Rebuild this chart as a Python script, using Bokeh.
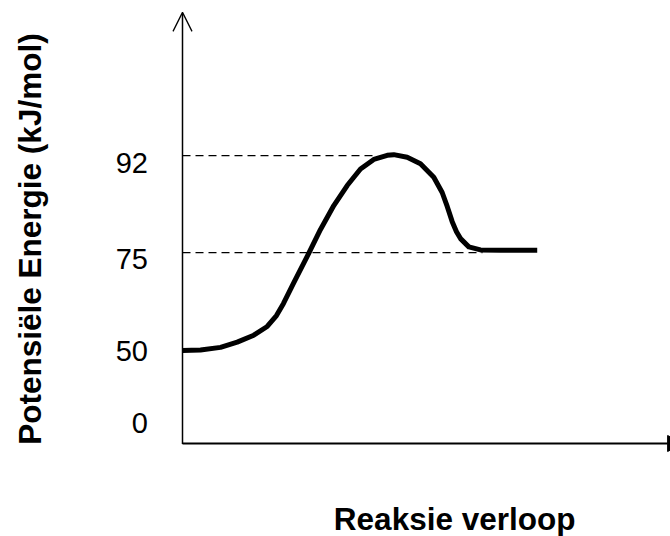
import math
from bokeh.plotting import figure
from bokeh.models import Range1d, Arrow, OpenHead, NormalHead
from bokeh.core.properties import value
from bokeh.embed import file_html
from bokeh.resources import INLINE

# --- data (schematic diagram units: x = reaction progress, y = diagram height) ---
curve_x = [0.0, 3.75, 7.92, 11.4, 14.85, 17.65, 19.58, 21.04, 23.19, 25.98, 28.75,
           31.52, 34.31, 37.08, 39.85, 42.65, 44.02, 46.81, 49.58, 52.35, 54.1,
           55.15, 56.19, 57.08, 57.92, 59.65, 62.08, 66.25, 73.9]
curve_y = [21.4, 21.5, 22.1, 23.3, 24.9, 26.9, 29.4, 32.2, 37.0, 43.0, 49.2,
           54.7, 59.3, 63.1, 65.3, 66.25, 66.4, 65.8, 64.3, 61.2, 57.7,
           54.5, 51.0, 48.7, 47.1, 45.2, 44.5, 44.4, 44.4]

# energy levels marked by dashed guide lines
level_names = ["92", "75"]
level_y = [66.2, 43.9]
level_x_end = [40.5, 62.5]

# tick labels of the y axis (kJ/mol) and their positions on the diagram
tick_labels = ["0", "50", "75", "92"]
tick_pos = [4.6, 21.2, 42.5, 64.4]

x_label = "Reaksie verloop"
y_label = "Potensiële Energie (kJ/mol)"

FONT = value("Liberation Sans")

# full-canvas frame; 1 x unit = 4.8 px, 1 y unit = 4.35 px, origin at the axes corner
p = figure(width=670, height=536, output_backend="svg", toolbar_location=None,
           x_range=Range1d(-182 / 4.8, 488 / 4.8), y_range=Range1d(-93 / 4.35, 443 / 4.35),
           min_border=0)
p.axis.visible = False
p.outline_line_color = None
p.grid.visible = False
p.background_fill_color = "white"
p.border_fill_color = "white"

# dashed guide lines
for ly, lx in zip(level_y, level_x_end):
    p.line([0, lx], [ly, ly], line_color="black", line_width=1.2, line_dash="8 5")

# energy curve
p.line(curve_x, curve_y, line_color="black", line_width=5, line_join="round", line_cap="butt")

# axes with arrows
p.add_layout(Arrow(x_start=0, y_start=-0.1, x_end=0, y_end=99.1, line_width=1.5, line_color="black",
                   end=OpenHead(size=19, line_width=1.3, line_color="black")))
p.add_layout(Arrow(x_start=0, y_start=0, x_end=104.4, y_end=0, line_width=2, line_color="black",
                   end=NormalHead(size=16, line_color="black", fill_color="black")))

# y tick labels
p.text(x=[-7.2] * len(tick_pos), y=tick_pos, text=tick_labels, text_font=FONT,
       text_font_size="29px", text_align="right", text_baseline="middle", text_color="black")

# axis labels
p.text(x=[-31.7], y=[47.0], text=[y_label], angle=math.pi / 2, text_font=FONT,
       text_font_style="bold", text_font_size="31.5px", text_align="center",
       text_baseline="middle", text_color="black")
p.text(x=[56.7], y=[-17.3], text=[x_label], text_font=FONT, text_font_style="bold",
       text_font_size="31.5px", text_align="center", text_baseline="middle", text_color="black")

open("out.html", "w").write(file_html(p, INLINE))
